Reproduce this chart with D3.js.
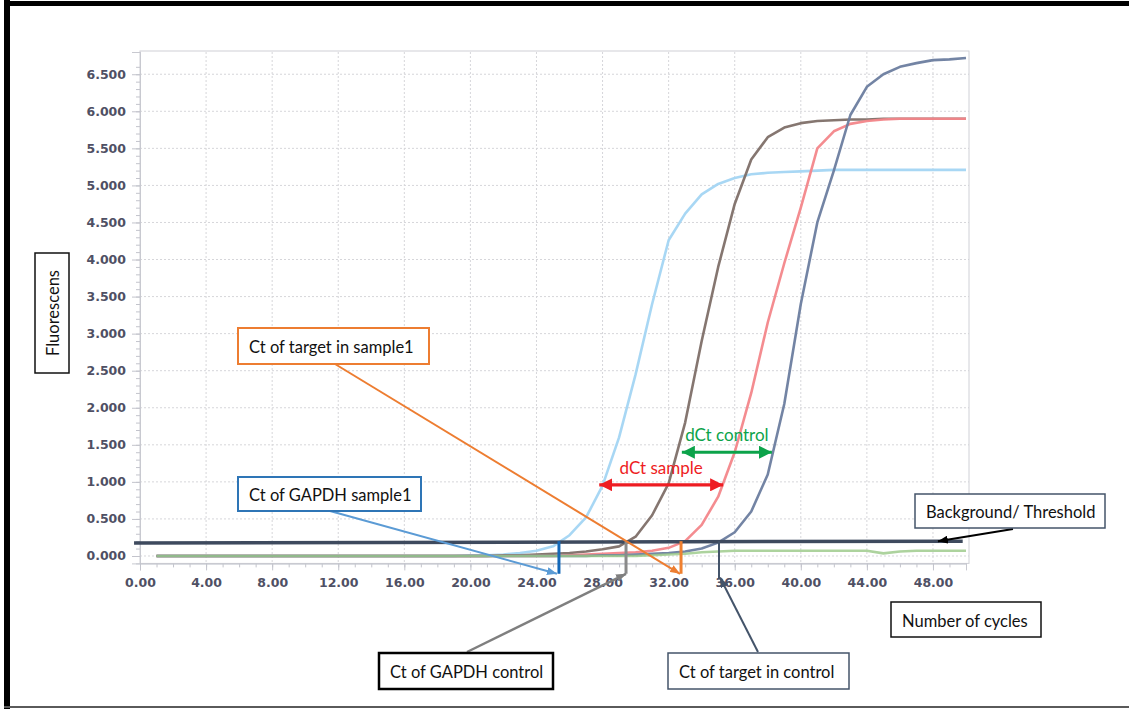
<!DOCTYPE html>
<html>
<head>
<meta charset="utf-8">
<script src="https://cdn.jsdelivr.net/npm/d3@7"></script>
<style>
  body { margin: 0; background: #fff; }
  svg { display: block; }
</style>
</head>
<body>
<svg id="chart" width="1129" height="709"></svg>
<script>
// cycle numbers 1..50
var cycles = d3.range(1, 51);

// fluorescence per cycle
var gapdhSample = [0,0,0,0,0,0,0,0,0,0, 0,0,0,0,0,0,0,0,0,0.01,
  0.01,0.02,0.04,0.07,0.13,0.28,0.52,0.95,1.6,2.45,
  3.4,4.26,4.62,4.88,5.02,5.1,5.15,5.17,5.18,5.19,
  5.2,5.21,5.21,5.21,5.21,5.21,5.21,5.21,5.21,5.21];
var gapdhControl = [0,0,0,0,0,0,0,0,0,0, 0,0,0,0,0,0,0,0,0,0,
  0,0.01,0.01,0.02,0.03,0.04,0.06,0.09,0.13,0.26,
  0.55,0.98,1.8,2.9,3.9,4.75,5.35,5.65,5.78,5.84,
  5.87,5.88,5.89,5.89,5.9,5.9,5.9,5.9,5.9,5.9];
var targetSample = [0,0,0,0,0,0,0,0,0,0, 0,0,0,0,0,0,0,0,0,0,
  0,0,0,0,0,0.01,0.02,0.03,0.04,0.05,
  0.07,0.11,0.2,0.42,0.8,1.4,2.2,3.15,3.95,4.7,
  5.5,5.73,5.83,5.87,5.89,5.9,5.9,5.9,5.9,5.9];
var targetControl = [0,0,0,0,0,0,0,0,0,0, 0,0,0,0,0,0,0,0,0,0,
  0,0,0,0,0,0,0,0.01,0.01,0.02,
  0.03,0.04,0.06,0.1,0.18,0.32,0.6,1.1,2.05,3.4,
  4.5,5.2,5.95,6.33,6.5,6.6,6.65,6.69,6.7,6.72];
var blankWell = [0,0,0,0,0,0,0,0,0,0, 0,0,0,0,0,0,0,0,0,0,
  0,0,0,0,0,0,0,0,0,0,
  0.01,0.02,0.03,0.05,0.06,0.07,0.07,0.07,0.07,0.07,
  0.07,0.07,0.07,0.07,0.035,0.06,0.07,0.07,0.07,0.07];

var seriesColors = ["#a3d5f3", "#7e6f68", "#f3868a", "#6b7d9f", "#98c886"];

var xTicks = [0, 4, 8, 12, 16, 20, 24, 28, 32, 36, 40, 44, 48];
var yTicks = [0, 0.5, 1, 1.5, 2, 2.5, 3, 3.5, 4, 4.5, 5, 5.5, 6, 6.5];

// threshold line end points [cycle, value]
var thresholdFrom = [-0.36, 0.175];
var thresholdTo = [49.8, 0.2];

// Ct markers
var ctCycles = [25.36, 29.42, 32.75, 35.05];
var ctColors = ["#1468b8", "#8a8a8a", "#ef8030", "#44546a"];

// dCt arrows [from, to, value]
var dctSample = [27.8, 35.3, 0.96];
var dctControl = [32.8, 38.25, 1.4];

var svg = d3.select("#chart");
var defs = svg.append("defs");

var x = d3.scaleLinear().domain([0, 50]).range([140, 966]);
var y = d3.scaleLinear().domain([-0.1, 6.8]).range([563.4, 52]);

// page border
svg.append("rect").attr("x", 4).attr("y", 0).attr("width", 6).attr("height", 709).attr("fill", "#000");
svg.append("rect").attr("x", 4).attr("y", 1).attr("width", 1125).attr("height", 5).attr("fill", "#000");
svg.append("rect").attr("x", 4).attr("y", 706).attr("width", 1125).attr("height", 2).attr("fill", "#5a5a5a");

// grid
var grid = svg.append("g");
grid.selectAll(".gy").data(yTicks).enter().append("line")
  .attr("x1", 140).attr("x2", 969)
  .attr("y1", function(d) { return y(d); }).attr("y2", function(d) { return y(d); })
  .attr("stroke", "#d6d6da").attr("stroke-dasharray", "2,2");
grid.selectAll(".gx").data(xTicks.slice(1)).enter().append("line")
  .attr("y1", 52).attr("y2", 563.4)
  .attr("x1", function(d) { return x(d); }).attr("x2", function(d) { return x(d); })
  .attr("stroke", "#d6d6da").attr("stroke-dasharray", "2,2");
svg.append("rect").attr("x", 140).attr("y", 51).attr("width", 829).attr("height", 512.4)
  .attr("fill", "none").attr("stroke", "#cfd0d6");

// axes
var yMinor = svg.append("g").attr("transform", "translate(140,0)")
  .call(d3.axisLeft(y).tickValues(d3.range(0, 67).map(function(i) { return i / 10; })).tickSize(4).tickFormat(""));
var yAxis = svg.append("g").attr("transform", "translate(140,0)")
  .call(d3.axisLeft(y).tickValues(yTicks).tickSize(8).tickPadding(6).tickFormat(d3.format(".3f")));
var xMinor = svg.append("g").attr("transform", "translate(0,563.4)")
  .call(d3.axisBottom(x).tickValues(d3.range(0, 51)).tickSize(4).tickFormat(""));
var xAxis = svg.append("g").attr("transform", "translate(0,563.4)")
  .call(d3.axisBottom(x).tickValues(xTicks).tickSize(7).tickPadding(8).tickFormat(d3.format(".2f")));
[yMinor, yAxis, xMinor, xAxis].forEach(function(g) {
  g.select(".domain").attr("stroke", "#c8c9d0");
  g.selectAll(".tick line").attr("stroke", "#c3c4cc");
  g.selectAll("text").attr("fill", "#4f5064")
    .style("font-family", "'DejaVu Sans', sans-serif").style("font-size", "12.5px").style("font-weight", "bold");
});

// amplification curves
var line = d3.line()
  .x(function(d, i) { return x(cycles[i]); })
  .y(function(d) { return y(d); });
[gapdhSample, gapdhControl, targetSample, targetControl, blankWell].forEach(function(s, i) {
  svg.append("path").datum(s).attr("d", line)
    .attr("fill", "none").attr("stroke", seriesColors[i]).attr("stroke-width", 2.6)
    .attr("stroke-opacity", i == 4 ? 0.8 : 0.95).attr("stroke-linejoin", "round");
});

// threshold
svg.append("line")
  .attr("x1", x(thresholdFrom[0])).attr("y1", y(thresholdFrom[1]))
  .attr("x2", x(thresholdTo[0])).attr("y2", y(thresholdTo[1]))
  .attr("stroke", "#3e4a5e").attr("stroke-width", 3.5);

// Ct verticals
ctCycles.forEach(function(c, i) {
  svg.append("line")
    .attr("x1", x(c)).attr("x2", x(c))
    .attr("y1", y(0.2)).attr("y2", y(i == 3 ? -0.31 : -0.24))
    .attr("stroke", ctColors[i]).attr("stroke-width", i == 3 ? 2 : 3);
});

function marker(id, color, len, wid, reverse) {
  defs.append("marker").attr("id", id)
    .attr("viewBox", "0 0 " + len + " " + wid).attr("refX", len).attr("refY", wid / 2)
    .attr("markerWidth", len).attr("markerHeight", wid)
    .attr("markerUnits", "userSpaceOnUse")
    .attr("orient", reverse ? "auto-start-reverse" : "auto")
    .append("path").attr("d", "M0,0L" + len + "," + wid / 2 + "L0," + wid + "z").attr("fill", color);
}

// dCt double arrows
function dct(arr, color, id, label) {
  marker(id, color, 13, 13, true);
  svg.append("line")
    .attr("x1", x(arr[0])).attr("x2", x(arr[1]))
    .attr("y1", y(arr[2])).attr("y2", y(arr[2]))
    .attr("stroke", color).attr("stroke-width", 3.2)
    .attr("marker-start", "url(#" + id + ")").attr("marker-end", "url(#" + id + ")");
  svg.append("text").attr("x", (x(arr[0]) + x(arr[1])) / 2).attr("y", y(arr[2]) - 11)
    .attr("text-anchor", "middle").attr("fill", color)
    .style("font-family", "Lato, sans-serif").style("font-size", "17px").text(label);
}
dct(dctSample, "#ee1d23", "mRed", "dCt sample");
dct(dctControl, "#0ca34a", "mGreen", "dCt control");

// callout boxes
function box(x0, y0, w, h, color, sw, label, vertical) {
  svg.append("rect").attr("x", x0).attr("y", y0).attr("width", w).attr("height", h)
    .attr("fill", "#fff").attr("stroke", color).attr("stroke-width", sw);
  var t = svg.append("text").attr("fill", "#111")
    .style("font-family", "Lato, sans-serif").style("font-size", "16.5px")
    .attr("dominant-baseline", "central").text(label);
  if (vertical) {
    t.attr("text-anchor", "middle")
      .attr("transform", "translate(" + (x0 + w / 2 + 1) + "," + (y0 + h / 2) + ") rotate(-90)");
  } else {
    t.attr("x", x0 + 11).attr("y", y0 + h / 2 + 1);
  }
}

function callout(x1, y1, x2, y2, color, id, sw) {
  marker(id, color, 10, 8, false);
  svg.append("line").attr("x1", x1).attr("y1", y1).attr("x2", x2).attr("y2", y2)
    .attr("stroke", color).attr("stroke-width", sw).attr("marker-end", "url(#" + id + ")");
}

callout(335, 364, x(ctCycles[2]) - 1, y(-0.24), "#ed7d31", "aOrange", 2);
callout(330, 511, x(ctCycles[0]) - 2, y(-0.24), "#5b9bd5", "aBlue", 2);
callout(467, 652, x(ctCycles[1]), y(-0.24), "#7f7f7f", "aGray", 2.5);
callout(758, 652, x(ctCycles[3]) + 1, y(-0.29), "#44546a", "aSlate", 2);
callout(1013, 529, x(48.3), y(0.2), "#000", "aBlack", 2);

box(238, 328, 191, 36, "#ed7d31", 2, "Ct of target in sample1");
box(238, 477, 183, 34, "#2e75b6", 2, "Ct of GAPDH sample1");
box(915, 494, 190, 34, "#44546a", 1.5, "Background/ Threshold");
box(891, 602, 150, 35, "#111", 1.5, "Number of cycles");
box(379, 653, 174, 36, "#000", 2.5, "Ct of GAPDH control");
box(668, 653, 181, 36, "#44546a", 1.5, "Ct of target in control");
box(35, 253, 34, 120, "#111", 1.5, "Fluorescens", true);
</script>
</body>
</html>
